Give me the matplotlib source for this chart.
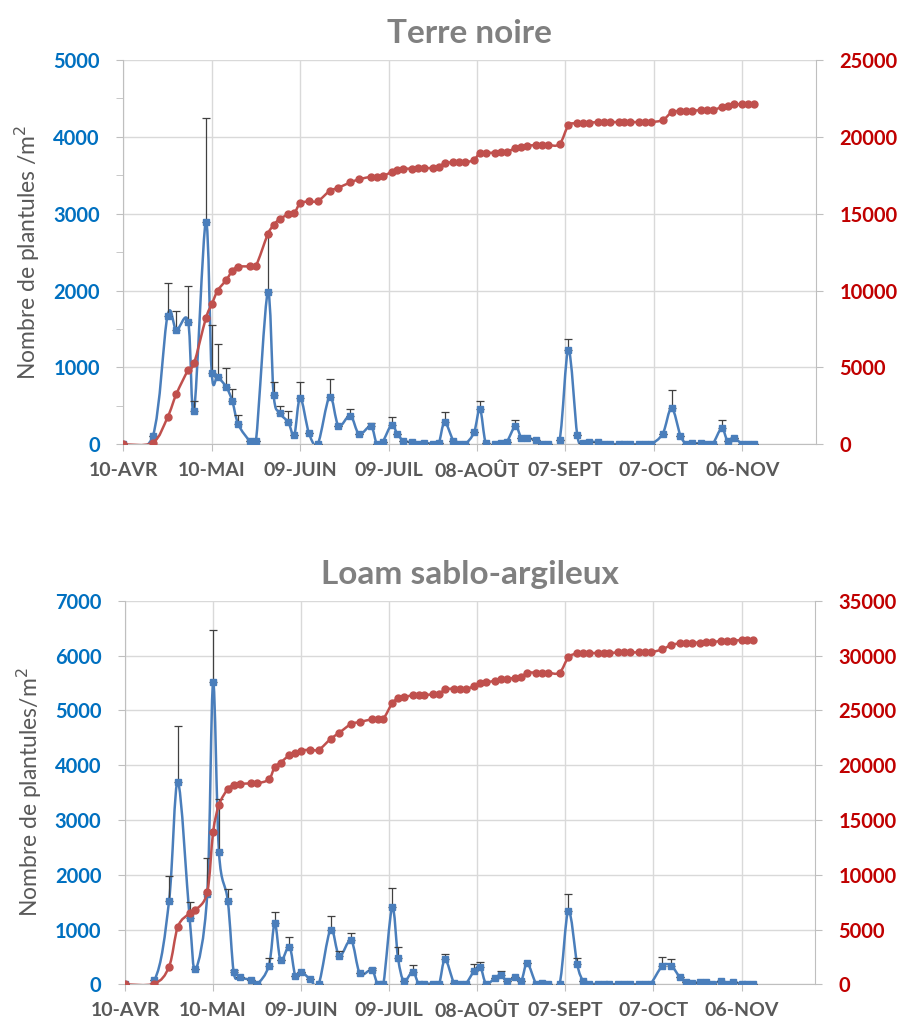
import numpy as np
import matplotlib
matplotlib.use('Agg')
import matplotlib.pyplot as plt
from matplotlib.ticker import MultipleLocator
from matplotlib.path import Path
from matplotlib.patches import PathPatch

# sampling days, counted from 10 April
days = [0, 10, 15, 18, 22, 24, 28, 30, 32, 35, 37, 39, 43, 45, 49, 51, 53, 56, 58, 60,
        63, 66, 70, 73, 77, 80, 84, 86, 88, 91, 93, 95, 98, 100, 102, 105, 107, 109, 112, 114,
        116, 119, 121, 123, 126, 128, 130, 133, 135, 137, 140, 142, 144, 148, 151, 154, 156, 158, 161, 163,
        165, 168, 170, 172, 175, 177, 179, 183, 186, 189, 191, 193, 196, 198, 200, 203, 205, 207, 210, 212,
        214]
tick_labels = ['10-AVR', '10-MAI', '09-JUIN', '09-JUIL', '08-AOÛT', '07-SEPT', '07-OCT', '06-NOV']

# Terre noire
tn_dens = [0, 108, 1674, 1487, 1596, 434, 2896, 924, 880, 741, 559, 260, 43, 43, 1977, 642, 412, 286, 121, 607,
           143, 9, 620, 243, 373, 134, 234, 4, 35, 251, 134, 48, 26, 9, 17, 9, 13, 286, 43, 4,
           4, 156, 460, 13, 0, 22, 26, 234, 87, 78, 56, 9, 4, 61, 1231, 121, 13, 35, 26, 4,
           0, 4, 0, 0, 0, 0, 0, 139, 473, 113, 9, 13, 13, 9, 9, 208, 43, 87, 4, 0,
           0]
tn_err = [0, 0, 420, 247, 464, 130, 1345, 628, 421, 248, 165, 122, 0, 0, 755, 173, 91, 148, 0, 208,
          0, 0, 226, 0, 87, 0, 40, 0, 0, 100, 0, 0, 0, 0, 0, 0, 0, 130, 0, 0,
          0, 0, 104, 0, 0, 0, 0, 82, 0, 0, 0, 0, 0, 0, 144, 0, 0, 0, 0, 0,
          0, 0, 0, 0, 0, 0, 0, 0, 234, 0, 0, 0, 0, 0, 0, 108, 0, 0, 0, 0,
          0]
tn_cum = [0, 108, 1756, 3274, 4835, 5268, 8195, 9106, 9995, 10710, 11295, 11555, 11577, 11620, 13658, 14265, 14656, 14959, 15046, 15675,
          15805, 15826, 16477, 16694, 17040, 17236, 17409, 17409, 17452, 17713, 17843, 17929, 17929, 17951, 17973, 17973, 18016, 18298, 18341, 18341,
          18341, 18515, 18970, 18970, 18970, 19013, 19013, 19274, 19360, 19425, 19469, 19469, 19469, 19534, 20748, 20878, 20878, 20921, 20965, 20965,
          20965, 20965, 20965, 20965, 20965, 20965, 20965, 21095, 21593, 21702, 21702, 21702, 21745, 21745, 21745, 21940, 22027, 22114, 22114, 22114,
          22114]

# Loam sablo-argileux
ls_dens = [0, 79, 1522, 3695, 1217, 274, 1643, 5515, 2410, 1528, 231, 128, 79, 6, 341, 1114, 444, 688, 158, 231,
           97, 12, 998, 517, 803, 201, 262, 12, 12, 1406, 475, 61, 231, 12, 12, 12, 12, 457, 30, 6,
           6, 250, 323, 12, 116, 170, 61, 128, 67, 383, 12, 18, 0, 6, 1345, 371, 67, 6, 12, 6,
           0, 6, 0, 0, 0, 0, 6, 335, 341, 128, 37, 30, 37, 49, 0, 67, 0, 49, 6, 6,
           0]
ls_err = [0, 0, 456, 1028, 293, 0, 664, 962, 968, 219, 30, 0, 0, 0, 134, 213, 0, 176, 0, 0,
          0, 0, 244, 98, 128, 0, 30, 0, 0, 359, 207, 0, 122, 0, 0, 0, 0, 97, 0, 0,
          0, 121, 79, 0, 0, 80, 0, 0, 0, 0, 0, 0, 0, 0, 305, 104, 0, 0, 0, 0,
          0, 0, 0, 0, 0, 0, 0, 170, 116, 0, 0, 0, 0, 0, 0, 0, 0, 0, 0, 0,
          0]
ls_cum = [0, 61, 1613, 5264, 6482, 6786, 8399, 13876, 16371, 17832, 18167, 18288, 18349, 18349, 18714, 19840, 20236, 20936, 21149, 21331,
          21423, 21423, 22396, 22975, 23766, 23948, 24192, 24192, 24253, 25653, 26109, 26200, 26413, 26413, 26413, 26474, 26474, 26931, 26992, 26992,
          26992, 27204, 27539, 27570, 27722, 27844, 27874, 27996, 28056, 28452, 28452, 28452, 28452, 28452, 29852, 30217, 30247, 30247, 30247, 30247,
          30247, 30308, 30308, 30308, 30308, 30308, 30308, 30582, 30978, 31130, 31130, 31191, 31191, 31221, 31221, 31373, 31373, 31373, 31434, 31434,
          31434]

FONT = 'Lato'
BLUE = '#4A7EBB'
RED = '#C0504D'
GRIDC = '#D9D9D9'
SPINE = '#BFBFBF'

fig = plt.figure(figsize=(9.02, 10.21), dpi=100)


def smooth_line(ax, x, y, color, z):
    # excel-like "smoothed line": bezier segments through the points
    p = np.column_stack([x, y]).astype(float)
    ext = np.vstack([p[0], p, p[-1]])
    verts = [p[0]]
    codes = [Path.MOVETO]
    for i in range(len(p) - 1):
        p0, p1, p2, p3 = ext[i], ext[i + 1], ext[i + 2], ext[i + 3]
        verts += [p1 + (p2 - p0) / 6., p2 - (p3 - p1) / 6., p2]
        codes += [Path.CURVE4] * 3
    ax.add_patch(PathPatch(Path(verts, codes), fill=False, edgecolor=color,
                           lw=1.8, zorder=z, capstyle='round', joinstyle='round'))


def panel(rect, title, dens, err, cum, lmax, rmax, ylabel, minor):
    ax = fig.add_axes(rect)
    smooth_line(ax, days, dens, BLUE, 2.5)
    ax.errorbar(days, dens, yerr=[np.zeros(len(err)), err], fmt='none',
                ecolor='#404040', elinewidth=0.9, capsize=2.8, capthick=0.9, zorder=3)
    ax.plot(days, dens, ls='none', marker='s', ms=5, color=BLUE, zorder=3.5)
    ax.set_xlim(0, 235)
    ax.set_ylim(0, lmax)
    ax.yaxis.set_major_locator(MultipleLocator(1000))
    if minor:
        ax.yaxis.set_minor_locator(MultipleLocator(500))
    ax.set_xticks(np.arange(len(tick_labels)) * 30)
    ax.set_xticklabels(tick_labels)
    ax.grid(True, color=GRIDC, lw=1.0)
    ax.set_axisbelow(True)
    for s in ['top', 'right']:
        ax.spines[s].set_visible(False)
    for s in ['left', 'bottom']:
        ax.spines[s].set_color(SPINE)
    ax.tick_params(axis='y', which='both', direction='out', length=5, color=SPINE,
                   labelcolor='#0070C0', labelsize=14.5, pad=12)
    ax.tick_params(axis='x', direction='out', length=5, color=SPINE,
                   labelcolor='#595959', labelsize=14, pad=8)
    for lab in ax.get_yticklabels() + ax.get_xticklabels():
        lab.set_fontfamily(FONT)
        lab.set_fontweight('bold')
    ax.set_ylabel(ylabel, fontsize=16.5, color='#595959', family=FONT, labelpad=8)
    ax.set_title(title, fontsize=24, color='#808080', family=FONT, fontweight='bold', pad=12)

    ax2 = ax.twinx()
    smooth_line(ax2, days, cum, RED, 4)
    ax2.plot(days, cum, ls='none', marker='o', ms=5, color=RED, zorder=4.5)
    ax2.set_ylim(0, rmax)
    ax2.yaxis.set_major_locator(MultipleLocator(5000))
    for s in ['top', 'left', 'bottom']:
        ax2.spines[s].set_visible(False)
    ax2.spines['right'].set_color(SPINE)
    ax2.tick_params(axis='y', direction='out', length=5, color=SPINE,
                    labelcolor='#C00000', labelsize=14.5, pad=12)
    for lab in ax2.get_yticklabels():
        lab.set_fontfamily(FONT)
        lab.set_fontweight('bold')
    return ax, ax2


panel([0.1367, 0.5648, 0.768, 0.3764], 'Terre noire', tn_dens, tn_err, tn_cum,
      5000, 25000, 'Nombre de plantules /m$^2$', True)
panel([0.1386, 0.0359, 0.7649, 0.3755], 'Loam sablo-argileux', ls_dens, ls_err, ls_cum,
      7000, 35000, 'Nombre de plantules/m$^2$', False)

fig.savefig('out.png', dpi=100)
